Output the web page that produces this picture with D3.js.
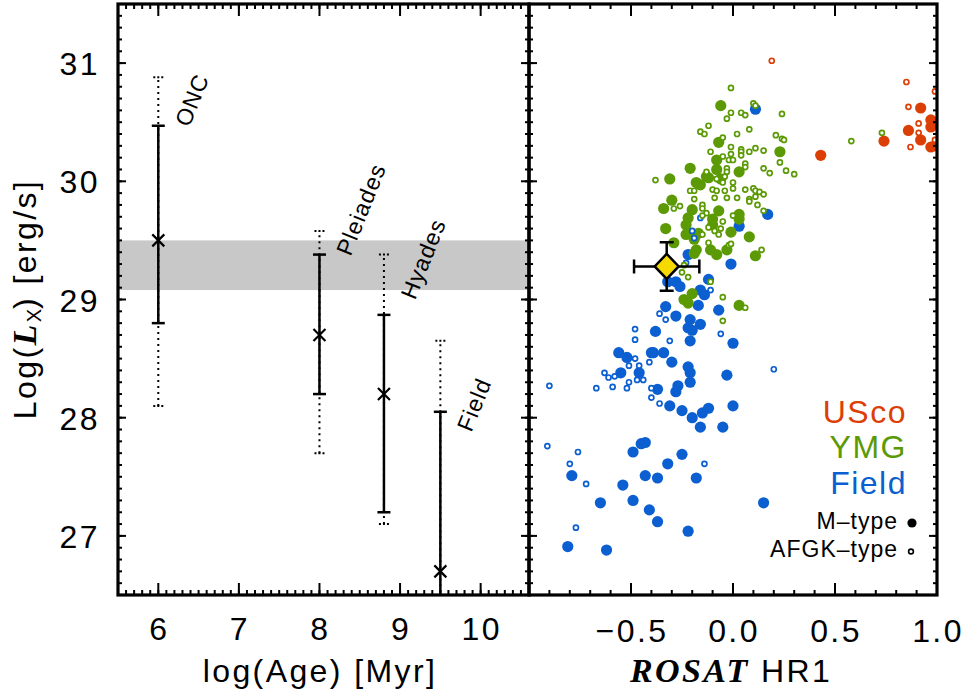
<!DOCTYPE html>
<html>
<head>
<meta charset="utf-8">
<script src="https://cdn.jsdelivr.net/npm/d3@7"></script>
<style>
  body { margin: 0; background: #fff; }
  svg text { font-family: "Liberation Sans", Arial, Helvetica, sans-serif; }
</style>
</head>
<body>
<svg id="chart" width="967" height="697"></svg>
<script>
// left panel: Lx vs age for clusters
var clusters = ["ONC", "Pleiades", "Hyades", "Field"]
var ages = [6, 8, 8.8, 9.5]          // log(Age)
var medLx = [29.5, 28.7, 28.2, 26.7]
var lo1 = [28.8, 28.2, 27.2, 25.3]   // solid bars
var hi1 = [30.47, 29.38, 28.87, 28.05]
var lo2 = [28.1, 27.7, 27.1, 25.0]   // dotted bars
var hi2 = [30.88, 29.58, 29.38, 28.65]
var labelLx = [30.45, 29.36, 28.99, 27.87]
var band = [29.08, 29.5]

// right panel: Lx vs ROSAT HR1, [hr, logLx]
var fieldM = [[0.11,30.61],[0.17,29.72],[0.03,29.62],[-0.22,29.38],[-0.01,29.30],[-0.32,29.15],[-0.28,29.15],
  [-0.26,29.11],[-0.16,29.08],[-0.14,29.04],[-0.12,29.17],[-0.07,28.91],[-0.17,28.95],[-0.33,28.94],
  [-0.28,28.86],[-0.21,28.83],[-0.16,28.79],[-0.22,28.76],[-0.20,28.74],[-0.38,28.73],[-0.21,28.65],
  [0.00,28.63],[-0.56,28.55],[-0.52,28.51],[-0.40,28.55],[-0.39,28.55],[-0.34,28.55],[-0.30,28.47],
  [-0.22,28.43],[-0.21,28.38],[-0.55,28.38],[-0.46,28.38],[-0.03,28.36],[-0.21,28.30],[-0.27,28.27],
  [-0.28,28.22],[-0.37,28.24],[-0.31,28.10],[-0.25,28.06],[-0.20,28.00],[-0.15,28.04],[-0.12,28.08],
  [0.00,28.10],[-0.16,27.92],[-0.05,27.92],[-0.45,27.78],[-0.43,27.79],[-0.49,27.71],[-0.25,27.69],
  [-0.32,27.61],[-0.43,27.51],[-0.37,27.49],[-0.18,27.49],[-0.79,27.51],[-0.54,27.43],[-0.65,27.28],
  [-0.49,27.30],[-0.41,27.22],[-0.37,27.12],[-0.22,27.04],[0.15,27.28],[-0.81,26.91],[-0.62,26.88]]
var fieldAFGK = [[-0.16,29.69],[-0.20,29.58],[-0.19,29.52],[-0.23,29.31],[-0.11,29.08],[-0.36,28.88],
  [-0.33,28.83],[-0.48,28.75],[-0.48,28.66],[-0.31,28.65],[-0.06,28.71],[-0.48,28.50],[-0.41,28.47],
  [-0.51,28.44],[-0.46,28.44],[-0.63,28.38],[-0.61,28.34],[-0.58,28.35],[-0.51,28.30],[-0.47,28.32],
  [-0.44,28.32],[-0.67,28.25],[-0.59,28.26],[-0.52,28.25],[-0.90,28.27],[-0.40,28.25],[-0.40,28.17],
  [-0.36,28.12],[0.20,28.41],[-0.91,27.76],[-0.76,27.71],[-0.80,27.61],[-0.72,27.44],[-0.14,27.61],
  [-0.77,27.07]]
var ymgM = [[-0.06,30.64],[-0.07,30.33],[-0.21,30.11],[-0.31,30.02],[-0.08,30.18],[-0.08,30.10],[0.03,30.08],
  [0.23,30.25],[-0.12,30.03],[-0.16,29.97],[-0.30,29.84],[-0.13,30.04],[-0.06,30.02],[-0.18,29.99],
  [-0.34,29.77],[-0.20,29.76],[-0.07,29.75],[-0.22,29.69],[-0.23,29.63],[-0.10,29.68],[-0.10,29.63],
  [-0.33,29.60],[-0.23,29.55],[-0.19,29.51],[-0.17,29.56],[-0.01,29.57],[0.03,29.72],[0.03,29.68],
  [0.08,29.53],[-0.29,29.48],[-0.18,29.42],[-0.19,29.39],[-0.11,29.42],[-0.08,29.38],[-0.03,29.42],
  [0.11,29.37],[-0.20,29.05],[-0.24,29.00],[-0.22,28.97],[0.03,28.95]]
var ymgAFGK = [[-0.01,30.79],[0.10,30.66],[0.11,30.64],[-0.01,30.58],[-0.03,30.53],[0.04,30.58],[0.06,30.56],
  [0.24,30.57],[-0.12,30.47],[-0.16,30.42],[-0.14,30.40],[-0.05,30.37],[0.02,30.40],[0.08,30.44],
  [0.21,30.39],[0.24,30.36],[0.25,30.35],[-0.01,30.29],[-0.11,30.25],[0.04,30.27],[0.04,30.25],
  [0.04,30.22],[0.08,30.25],[0.11,30.28],[0.15,30.26],[-0.05,30.21],[-0.01,30.23],[-0.02,30.18],
  [0.00,30.18],[0.06,30.15],[0.06,30.12],[0.23,30.16],[0.15,30.11],[0.18,30.07],[0.26,30.09],
  [0.30,30.06],[-0.38,30.01],[-0.03,30.11],[-0.03,30.08],[-0.13,30.08],[-0.04,30.04],[0.00,29.99],
  [0.00,29.94],[-0.08,30.02],[-0.10,29.93],[-0.08,29.92],[-0.05,29.99],[-0.04,29.92],[0.06,29.93],
  [0.10,29.94],[0.11,29.92],[0.13,29.91],[0.15,29.89],[0.08,29.85],[0.11,29.87],[-0.21,29.92],
  [-0.19,29.92],[-0.19,29.85],[-0.03,29.86],[0.02,29.86],[-0.09,29.86],[-0.26,29.79],[-0.29,29.77],
  [-0.15,29.80],[-0.15,29.77],[-0.13,29.73],[-0.15,29.71],[-0.05,29.66],[-0.06,29.60],[-0.09,29.58],
  [-0.07,29.55],[0.00,29.71],[0.12,29.80],[0.08,29.83],[0.15,29.75],[-0.12,29.61],[-0.15,29.55],
  [-0.02,29.46],[-0.01,29.47],[-0.12,29.48],[0.14,29.42],[-0.25,29.23],[-0.22,29.19],[-0.11,29.15],
  [-0.05,29.02],[0.06,28.93],[-0.24,29.29],[-0.05,28.82],[0.73,30.41],[0.58,30.34]]
var uscoM = [[0.43,30.22],[0.74,30.34],[0.86,30.43],[0.92,30.62],[0.92,30.35],[0.97,30.52],[0.97,30.46],
  [0.97,30.29],[0.99,30.48],[0.99,30.30]]
var uscoAFGK = [[0.19,31.02],[0.85,30.84],[0.86,30.63],[0.91,30.49],[0.91,30.41],[0.87,30.29],[0.99,30.76],
  [0.99,30.35]]

// the target star (yellow diamond)
var starHR = -0.325, starHRerr = 0.16
var starLx = 29.28, starLxErr = 0.205

var yTicks = [27, 28, 29, 30, 31]
var ageTicks = [6, 7, 8, 9, 10]
var hrTicks = [-0.5, 0.0, 0.5, 1.0]
var hrTickLabels = ["\u22120.5", "0.0", "0.5", "1.0"]

var colUSco = "#dc3f06", colYMG = "#5b9a04", colField = "#0b5fd0"

var svg = d3.select("#chart")
var plotTop = 4, plotBottom = 595
var leftX0 = 118, mid = 529, rightX1 = 937

var y = d3.scaleLinear().domain([26.5, 31.5]).range([plotBottom, plotTop])
var xAge = d3.scaleLinear().domain([5.5, 10.6]).range([leftX0, mid])
var xHR = d3.scaleLinear().domain([-1, 1]).range([mid, rightX1])

var defs = svg.append("defs")
defs.append("clipPath").attr("id", "clipL").append("rect")
    .attr("x", leftX0).attr("y", plotTop).attr("width", mid - leftX0).attr("height", plotBottom - plotTop)
defs.append("clipPath").attr("id", "clipR").append("rect")
    .attr("x", mid).attr("y", plotTop).attr("width", rightX1 - mid).attr("height", plotBottom - plotTop)

// ---- left panel ----
var gl = svg.append("g").attr("clip-path", "url(#clipL)")

gl.append("rect")
    .attr("x", leftX0).attr("width", mid - leftX0)
    .attr("y", y(band[1])).attr("height", y(band[0]) - y(band[1]))
    .attr("fill", "#c8c8c8")

ages.forEach(function(a, i) {
    var cx = xAge(a)
    // dotted range
    gl.append("line").attr("x1", cx).attr("x2", cx).attr("y1", y(lo2[i])).attr("y2", y(hi2[i]))
        .attr("stroke", "#000").attr("stroke-width", 2).attr("stroke-dasharray", "2,4")
    ;[lo2[i], hi2[i]].forEach(function(v) {
        gl.append("line").attr("x1", cx - 5).attr("x2", cx + 5).attr("y1", y(v)).attr("y2", y(v))
            .attr("stroke", "#000").attr("stroke-width", 2).attr("stroke-dasharray", "2,2")
    })
    // solid range
    gl.append("line").attr("x1", cx).attr("x2", cx).attr("y1", y(lo1[i])).attr("y2", y(hi1[i]))
        .attr("stroke", "#000").attr("stroke-width", 2.5)
    ;[lo1[i], hi1[i]].forEach(function(v) {
        gl.append("line").attr("x1", cx - 6.5).attr("x2", cx + 6.5).attr("y1", y(v)).attr("y2", y(v))
            .attr("stroke", "#000").attr("stroke-width", 2.5)
    })
    // cross
    var cy = y(medLx[i])
    gl.append("path").attr("d", "M" + (cx - 6) + "," + (cy - 6) + "L" + (cx + 6) + "," + (cy + 6) +
        "M" + (cx - 6) + "," + (cy + 6) + "L" + (cx + 6) + "," + (cy - 6))
        .attr("stroke", "#000").attr("stroke-width", 2.2)
    // label
    var lx = cx + 31, ly = y(labelLx[i])
    svg.append("text").attr("transform", "translate(" + lx + "," + ly + ") rotate(-68)")
        .attr("font-size", 23).attr("letter-spacing", "1px")
        .text(clusters[i])
})

// ---- right panel ----
var gr = svg.append("g").attr("clip-path", "url(#clipR)")

function dots(data, color, filled) {
    gr.selectAll(null).data(data).join("circle")
        .attr("cx", function(d) { return xHR(d[0]) })
        .attr("cy", function(d) { return y(d[1]) })
        .attr("r", filled ? 5.6 : 2.5)
        .attr("fill", filled ? color : "#fff")
        .attr("stroke", color)
        .attr("stroke-width", filled ? 0 : 1.7)
}
dots(fieldM, colField, true)
dots(ymgM, colYMG, true)
dots(uscoM, colUSco, true)
dots(fieldAFGK, colField, false)
dots(ymgAFGK, colYMG, false)
dots(uscoAFGK, colUSco, false)

// target with error bars
var sx = xHR(starHR), sy = y(starLx)
var sx0 = xHR(starHR - starHRerr), sx1 = xHR(starHR + starHRerr)
var sy0 = y(starLx - starLxErr), sy1 = y(starLx + starLxErr)
var eb = "M" + sx0 + "," + sy + "L" + sx1 + "," + sy +
    "M" + sx0 + "," + (sy - 7) + "L" + sx0 + "," + (sy + 7) +
    "M" + sx1 + "," + (sy - 7) + "L" + sx1 + "," + (sy + 7) +
    "M" + sx + "," + sy0 + "L" + sx + "," + sy1 +
    "M" + (sx - 7) + "," + sy0 + "L" + (sx + 7) + "," + sy0 +
    "M" + (sx - 7) + "," + sy1 + "L" + (sx + 7) + "," + sy1
gr.append("path").attr("d", eb).attr("stroke", "#000").attr("stroke-width", 2.5).attr("fill", "none")
gr.append("path")
    .attr("d", "M" + sx + "," + (sy - 12.5) + "L" + (sx + 12) + "," + sy + "L" + sx + "," + (sy + 12.5) +
        "L" + (sx - 12) + "," + sy + "Z")
    .attr("fill", "#f6d900").attr("stroke", "#000").attr("stroke-width", 2.5).attr("stroke-linejoin", "miter")

// legend
var legX = 907
svg.append("text").attr("x", legX).attr("y", 423).attr("text-anchor", "end").attr("font-size", 32)
    .attr("letter-spacing", "1.5px").attr("fill", colUSco).text("USco")
svg.append("text").attr("x", legX).attr("y", 458).attr("text-anchor", "end").attr("font-size", 32)
    .attr("letter-spacing", "1.5px").attr("fill", colYMG).text("YMG")
svg.append("text").attr("x", legX).attr("y", 494).attr("text-anchor", "end").attr("font-size", 32)
    .attr("letter-spacing", "1.5px").attr("fill", colField).text("Field")
svg.append("text").attr("x", 898).attr("y", 529).attr("text-anchor", "end").attr("font-size", 23)
    .attr("letter-spacing", "1px").text("M\u2013type")
svg.append("text").attr("x", 898).attr("y", 557).attr("text-anchor", "end").attr("font-size", 23)
    .attr("letter-spacing", "1px").text("AFGK\u2013type")
svg.append("circle").attr("cx", 912).attr("cy", 523).attr("r", 4.6).attr("fill", "#000")
svg.append("circle").attr("cx", 911).attr("cy", 551.5).attr("r", 2.4).attr("fill", "#fff")
    .attr("stroke", "#000").attr("stroke-width", 1.6)

// ---- frames and ticks ----
function tickLines(scale, vals, side, pos, len) {
    svg.append("g").selectAll("line").data(vals).join("line")
        .attr("x1", function(d) { return side == "top" || side == "bottom" ? scale(d) : pos })
        .attr("x2", function(d) {
            if (side == "left") return pos + len
            if (side == "right") return pos - len
            return scale(d)
        })
        .attr("y1", function(d) { return side == "top" || side == "bottom" ? pos : scale(d) })
        .attr("y2", function(d) {
            if (side == "top") return pos + len
            if (side == "bottom") return pos - len
            return scale(d)
        })
        .attr("stroke", "#000").attr("stroke-width", 2)
}

var yMinor = d3.range(265, 316).map(function(d) { return d / 10 })
var ageMinor = d3.range(55, 107).map(function(d) { return d / 10 })
var hrMinor = d3.range(-10, 11).map(function(d) { return d / 10 })

function frame(xs, x0, x1, xMaj, xMin) {
    tickLines(xs, xMin, "top", plotTop, 5)
    tickLines(xs, xMin, "bottom", plotBottom, 5)
    tickLines(xs, xMaj, "top", plotTop, 12)
    tickLines(xs, xMaj, "bottom", plotBottom, 12)
    tickLines(y, yMinor, "left", x0, 4)
    tickLines(y, yMinor, "right", x1, 4)
    tickLines(y, yTicks, "left", x0, 8)
    tickLines(y, yTicks, "right", x1, 8)
    svg.append("rect").attr("x", x0).attr("y", plotTop).attr("width", x1 - x0).attr("height", plotBottom - plotTop)
        .attr("fill", "none").attr("stroke", "#000").attr("stroke-width", 3.2)
}
frame(xAge, leftX0, mid, ageTicks, ageMinor)
frame(xHR, mid, rightX1, hrTicks, hrMinor)

// tick labels
svg.append("g").selectAll("text").data(yTicks).join("text")
    .attr("x", 100).attr("y", function(d) { return y(d) + 12 })
    .attr("text-anchor", "end").attr("font-size", 32).attr("letter-spacing", "2.4px")
    .text(function(d) { return d })
svg.append("g").selectAll("text").data(ageTicks).join("text")
    .attr("x", function(d) { return xAge(d) + 1 }).attr("y", 640)
    .attr("text-anchor", "middle").attr("font-size", 32).attr("letter-spacing", "2.4px")
    .text(function(d) { return d })
svg.append("g").selectAll("text").data(hrTicks).join("text")
    .attr("x", function(d) { return xHR(d) + 1 }).attr("y", 642)
    .attr("text-anchor", "middle").attr("font-size", 32).attr("letter-spacing", "2.4px")
    .text(function(d, i) { return hrTickLabels[i] })

// axis titles
svg.append("text").attr("x", 320).attr("y", 682).attr("text-anchor", "middle")
    .attr("font-size", 32).attr("letter-spacing", "2.4px").text("log(Age) [Myr]")

var xt = svg.append("text").attr("x", 731).attr("y", 682).attr("text-anchor", "middle")
    .attr("font-size", 32).attr("letter-spacing", "2.4px")
xt.append("tspan").attr("font-family", "'Liberation Serif', 'Times New Roman', serif")
    .attr("font-weight", "bold").attr("font-style", "italic").attr("font-size", 34).text("ROSAT")
xt.append("tspan").text(" HR1")

var yt = svg.append("text").attr("transform", "translate(36,299) rotate(-90)").attr("text-anchor", "middle")
    .attr("font-size", 32).attr("letter-spacing", "2.4px")
yt.append("tspan").text("Log(")
yt.append("tspan").attr("font-family", "'Liberation Serif', 'Times New Roman', serif")
    .attr("font-weight", "bold").attr("font-style", "italic").attr("font-size", 34).text("L")
yt.append("tspan").attr("font-size", 20).attr("dy", 5).attr("letter-spacing", "0px").text("X")
yt.append("tspan").attr("dy", -5).text(") [erg/s]")
</script>
</body>
</html>
